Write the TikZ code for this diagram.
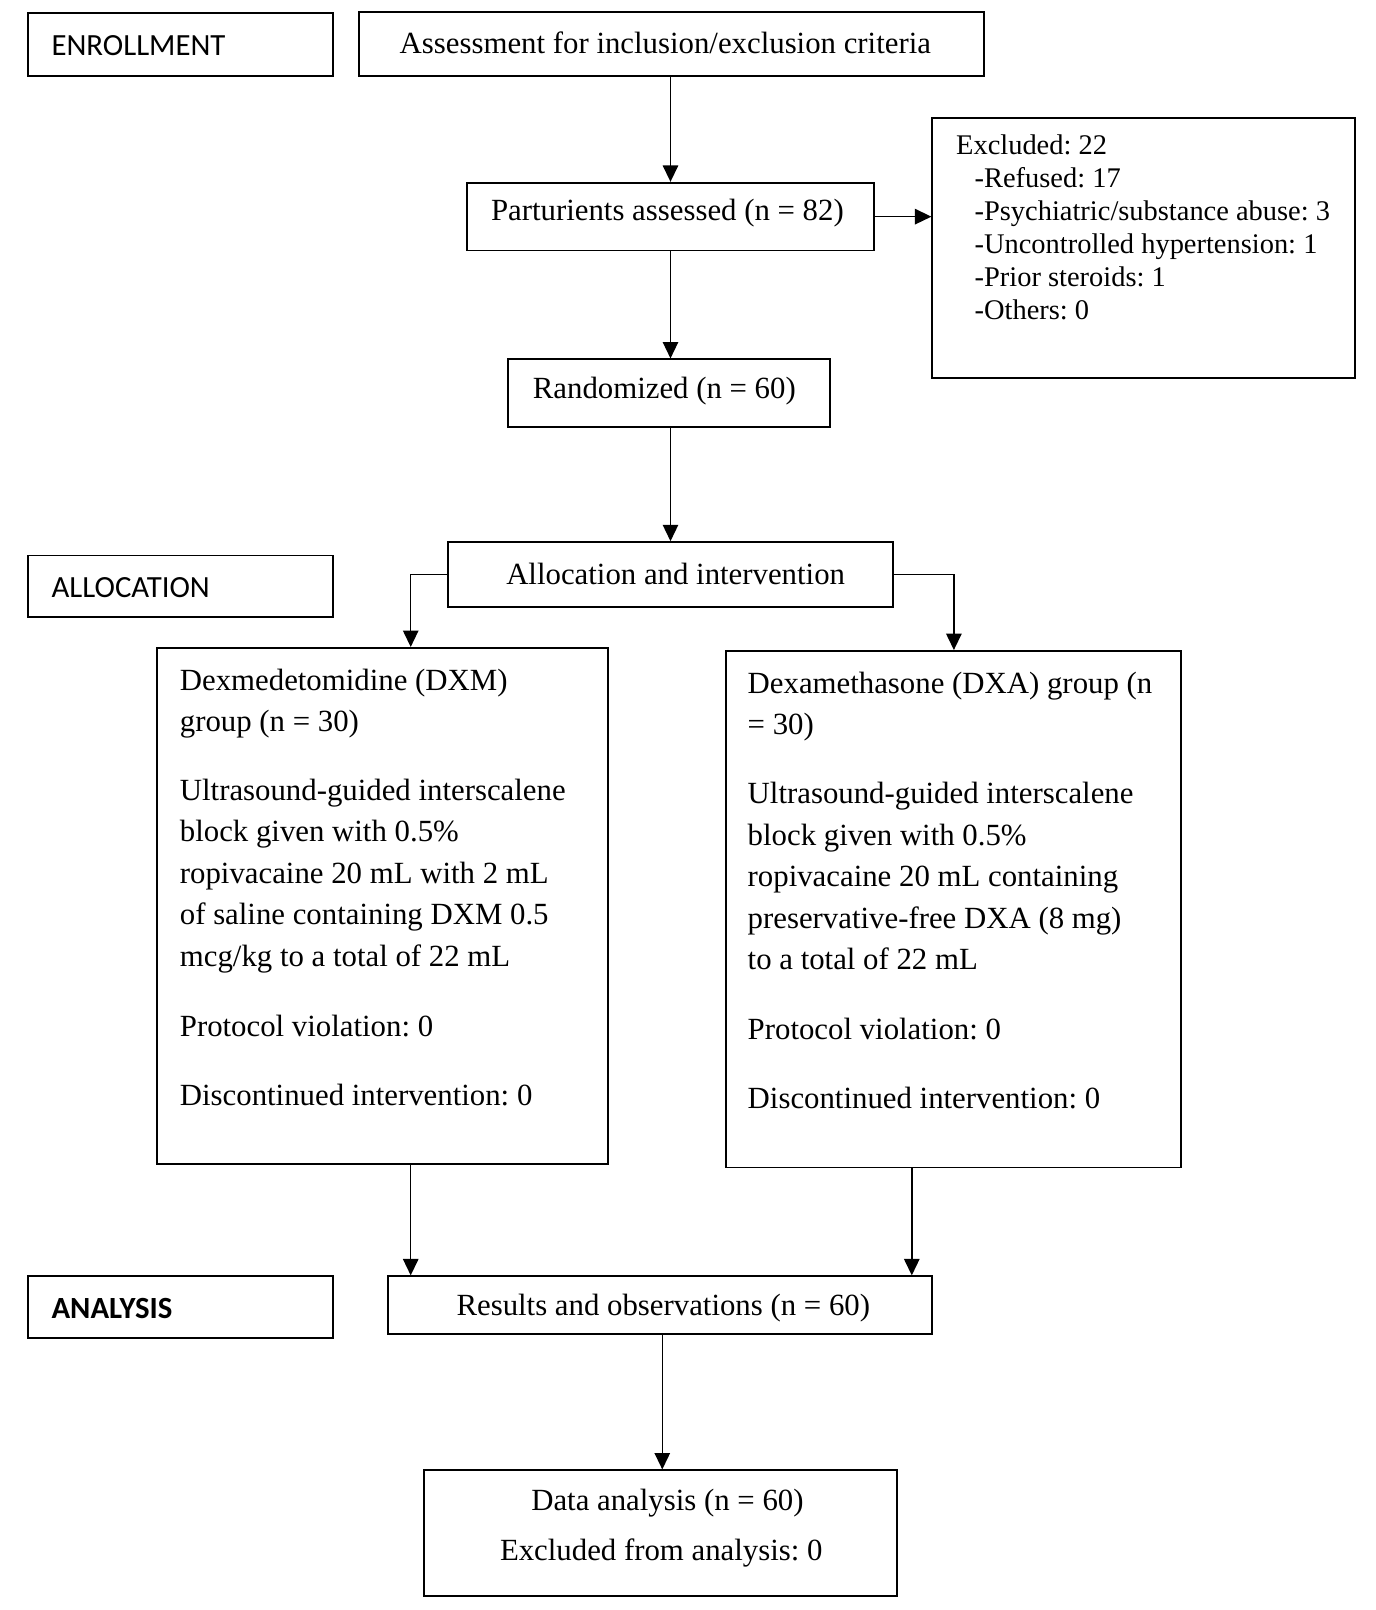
\documentclass[tikz,border=0pt]{standalone}
\usepackage{fontspec}
\setmainfont{Liberation Serif}
\newfontfamily\lblfont{Carlito}
\usetikzlibrary{arrows.meta,calc}
\frenchspacing
\tikzset{
  box/.style={draw, line width=1.8pt, inner sep=0pt},
  txt/.style={inner sep=0pt, font=\fontsize{30}{36}\selectfont},
  ln/.style={txt, anchor=base west},
  lnx/.style={inner sep=0pt, anchor=base west, font=\fontsize{27.7}{33}\selectfont},
  lbl/.style={inner sep=0pt, anchor=west, font=\lblfont\fontsize{30}{36}\selectfont},
  arr/.style={line width=1.5pt, -{Triangle[width=15pt,length=16pt]}}
}
\begin{document}
\frenchspacing
\begin{tikzpicture}[x=1pt,y=-1pt]
\useasboundingbox (0,0) rectangle (1340,1568);
% stage labels
\node[box, minimum width=297pt, minimum height=61pt] (enr) at (175.5,43.5) {};
\node[lbl] (enrt) at (50,44) {ENROLLMENT};
\node[box, minimum width=297pt, minimum height=60pt] (allocl) at (175.5,571) {};
\node[lbl] (alloclt) at (50,572) {ALLOCATION};
\node[box, minimum width=297pt, minimum height=60pt] (anl) at (175.5,1273) {};
\node[lbl, font=\lblfont\bfseries\fontsize{30}{36}\selectfont] (anlt) at (50,1274) {ANALYSIS};
% main boxes
\node[box, minimum width=608pt, minimum height=62pt] (assess) at (654,43) {};
\node[txt] (assesst) at (648,42) {Assessment for inclusion/exclusion criteria};
\node[box, minimum width=396pt, minimum height=66pt] (part) at (653,211) {};
\node[txt] (partt) at (650,208) {Parturients assessed (n = 82)};
\node[box, minimum width=412pt, minimum height=253pt] (excl) at (1114,241.5) {};
\node[lnx] (e1) at (931,150) {Excluded: 22};
\node[lnx] (e2) at (949,183) {-Refused: 17};
\node[lnx] (e3) at (949,215) {-Psychiatric/substance abuse: 3};
\node[lnx] (e4) at (949,247) {-Uncontrolled hypertension: 1};
\node[lnx] (e5) at (949,279) {-Prior steroids: 1};
\node[lnx] (e6) at (949,311) {-Others: 0};
\node[box, minimum width=313pt, minimum height=66pt] (rand) at (651.5,383) {};
\node[txt] (randt) at (647,381) {Randomized (n = 60)};
\node[box, minimum width=434pt, minimum height=63pt] (alloc) at (653,559.5) {};
\node[txt] (alloct) at (658,559) {Allocation and intervention};
% DXM
\node[box, minimum width=439pt, minimum height=503pt] (dxm) at (372.5,882.5) {};
\node[ln] (m1) at (175,672) {Dexmedetomidine (DXM)};
\node[ln] (m2) at (175,712) {group (n = 30)};
\node[ln] (m3) at (175,780) {Ultrasound-guided interscalene};
\node[ln] (m4) at (175,820) {block given with 0.5\%};
\node[ln] (m5) at (175,860) {ropivacaine 20 mL with 2 mL};
\node[ln] (m6) at (175,900) {of saline containing DXM 0.5};
\node[ln] (m7) at (175,941) {mcg/kg to a total of 22 mL};
\node[ln] (m8) at (175,1009) {Protocol violation: 0};
\node[ln] (m9) at (175,1077) {Discontinued intervention: 0};
% DXA
\node[box, minimum width=443pt, minimum height=503pt] (dxa) at (928.5,885.5) {};
\node[ln] (a1) at (728,675) {Dexamethasone (DXA) group (n};
\node[ln] (a2) at (728,715) {= 30)};
\node[ln] (a3) at (728,783) {Ultrasound-guided interscalene};
\node[ln] (a4) at (728,823) {block given with 0.5\%};
\node[ln] (a5) at (728,863) {ropivacaine 20 mL containing};
\node[ln] (a6) at (728,904) {preservative-free DXA (8 mg)};
\node[ln] (a7) at (728,944) {to a total of 22 mL};
\node[ln] (a8) at (728,1012) {Protocol violation: 0};
\node[ln] (a9) at (728,1080) {Discontinued intervention: 0};
% results and data
\node[box, minimum width=530pt, minimum height=56pt] (res) at (643,1271) {};
\node[txt] (rest) at (646,1274) {Results and observations (n = 60)};
\node[box, minimum width=461pt, minimum height=122pt] (data) at (643.5,1493) {};
\node[txt] (d1) at (650,1464) {Data analysis (n = 60)};
\node[txt] (d2) at (644,1512) {Excluded from analysis: 0};
% connectors
\draw[arr] (assess.south -| part.north) -- (part.north);
\draw[arr] (part.east) -- (part.east -| excl.west);
\draw[arr] (part.south) -- (part.south |- rand.north);
\draw[arr] (part.south |- rand.south) -- (part.south |- alloc.north);
\draw[arr] (alloc.west) -| ([xshift=27.5pt]dxm.north);
\draw[arr] (alloc.east) -| ([xshift=0.5pt]dxa.north);
\draw[arr] ([xshift=27.5pt]dxm.south) -- ([xshift=27.5pt]dxm.south |- res.north);
\draw[arr] ([xshift=-40.5pt]dxa.south) -- ([xshift=-40.5pt]dxa.south |- res.north);
\draw[arr] ([xshift=2pt]res.south) -- ([xshift=2pt]res.south |- data.north);
\end{tikzpicture}
\end{document}
